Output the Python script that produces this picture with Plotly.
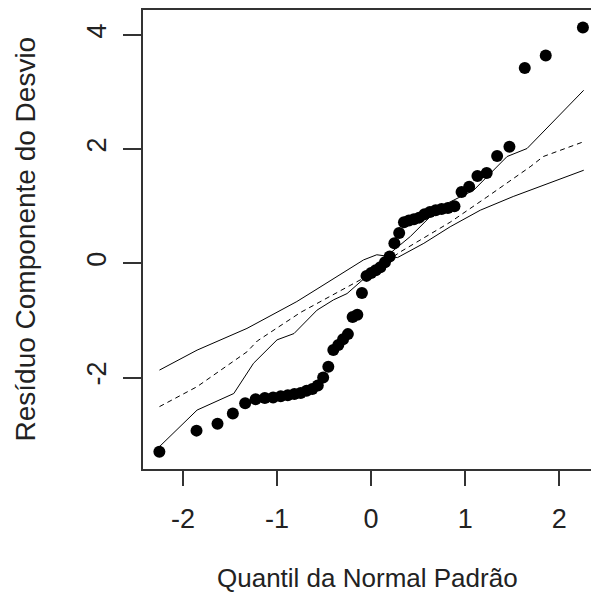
import plotly.graph_objects as go

# Theoretical quantiles (x) and ordered residuals (y)
quantis = [-2.251, -1.856, -1.633, -1.470, -1.339, -1.228, -1.130, -1.042, -0.961, -0.886,
           -0.816, -0.749, -0.686, -0.625, -0.567, -0.510, -0.455, -0.402, -0.349, -0.298,
           -0.247, -0.197, -0.147, -0.098, -0.049, 0.000, 0.049, 0.098, 0.147, 0.197,
           0.247, 0.298, 0.349, 0.402, 0.455, 0.510, 0.567, 0.625, 0.686, 0.749,
           0.816, 0.886, 0.961, 1.042, 1.130, 1.228, 1.339, 1.470, 1.633, 1.856, 2.251]
residuos = [-3.30, -2.93, -2.81, -2.63, -2.45, -2.38, -2.36, -2.35, -2.33, -2.31,
            -2.29, -2.27, -2.23, -2.20, -2.14, -2.00, -1.81, -1.52, -1.43, -1.33,
            -1.24, -0.94, -0.90, -0.52, -0.22, -0.17, -0.12, -0.07, 0.02, 0.12,
            0.35, 0.53, 0.72, 0.75, 0.77, 0.80, 0.86, 0.90, 0.93, 0.95,
            0.97, 1.00, 1.25, 1.34, 1.53, 1.58, 1.88, 2.04, 3.42, 3.64, 4.13]

# Envelope line A (upper at left, lower at right)
env_a_x = [-2.25, -1.85, -1.32, -0.79, -0.575, -0.29, -0.08, 0.06, 0.28, 0.56, 0.84, 1.16, 1.51, 2.26]
env_a_y = [-1.87, -1.52, -1.14, -0.67, -0.45, -0.15, 0.06, 0.15, 0.10, 0.35, 0.64, 0.93, 1.17, 1.63]

# Envelope line B (lower at left, upper at right)
env_b_x = [-2.25, -1.85, -1.46, -1.25, -1.00, -0.82, -0.575, -0.40, -0.256, 0.027, 0.204, 0.417,
           0.63, 0.735, 1.09, 1.445, 1.657, 2.046, 2.259]
env_b_y = [-3.21, -2.57, -2.28, -1.75, -1.34, -1.23, -0.82, -0.64, -0.53, -0.12, 0.18, 0.47,
           0.82, 0.99, 1.28, 1.87, 2.01, 2.68, 3.03]

# Median envelope (dashed)
env_m_x = [-2.25, -1.85, -1.32, -1.21, -0.75, -0.575, -0.115, 0.31, 0.84, 1.23, 1.69, 1.83, 2.26]
env_m_y = [-2.51, -2.16, -1.55, -1.36, -0.86, -0.70, -0.29, 0.20, 0.72, 1.16, 1.69, 1.87, 2.13]

x_ticks = [-2, -1, 0, 1, 2]
y_ticks = [-2, 0, 2, 4]
x_title = "Quantil da Normal Padrão"
y_title = "Resíduo Componente do Desvio"

FONT = "Liberation Sans, Arial, sans-serif"
TXT = "#222"

fig = go.Figure()
fig.add_trace(go.Scatter(x=env_a_x, y=env_a_y, mode="lines",
                         line=dict(color="black", width=1)))
fig.add_trace(go.Scatter(x=env_b_x, y=env_b_y, mode="lines",
                         line=dict(color="black", width=1)))
fig.add_trace(go.Scatter(x=env_m_x, y=env_m_y, mode="lines",
                         line=dict(color="black", width=1, dash="5px,4px")))
fig.add_trace(go.Scatter(x=quantis, y=residuos, mode="markers",
                         marker=dict(color="black", size=12)))

L, T, B = 143, 10, 136
PW, PH = 591 - L, 605 - T - B

fig.update_layout(
    width=591, height=605,
    margin=dict(l=L, r=0, t=T, b=B),
    plot_bgcolor="white", paper_bgcolor="white",
    showlegend=False,
    font=dict(family=FONT, color=TXT),
    annotations=[
        dict(text=x_title, xref="paper", yref="paper",
             x=0.5, y=-(578 - (T + PH)) / PH, xanchor="center", yanchor="middle",
             showarrow=False, font=dict(size=26, family=FONT, color=TXT)),
        dict(text=y_title, xref="paper", yref="paper", textangle=-90,
             x=(25 - L) / PW, y=0.5, xanchor="center", yanchor="middle",
             showarrow=False, font=dict(size=28, family=FONT, color=TXT)),
    ],
)
fig.update_xaxes(
    range=[-2.425, 2.337], tickvals=x_ticks, ticktext=[str(v) for v in x_ticks],
    showgrid=False, zeroline=False,
    showline=True, linecolor="#333", linewidth=1.5, mirror=True,
    ticks="outside", ticklen=15, tickcolor="#333", tickwidth=1.5,
    ticklabelstandoff=10,
    tickfont=dict(size=27, family=FONT, color=TXT),
)
fig.update_yaxes(
    range=[-3.602, 4.436], tickvals=y_ticks, ticktext=[str(v) for v in y_ticks],
    showgrid=False, zeroline=False,
    showline=True, linecolor="#333", linewidth=1.5, mirror=False,
    ticks="outside", ticklen=18, tickcolor="#333", tickwidth=1.5, tickangle=-90,
    ticklabelstandoff=6,
    tickfont=dict(size=27, family=FONT, color=TXT),
)

fig.write_html("out.html")
